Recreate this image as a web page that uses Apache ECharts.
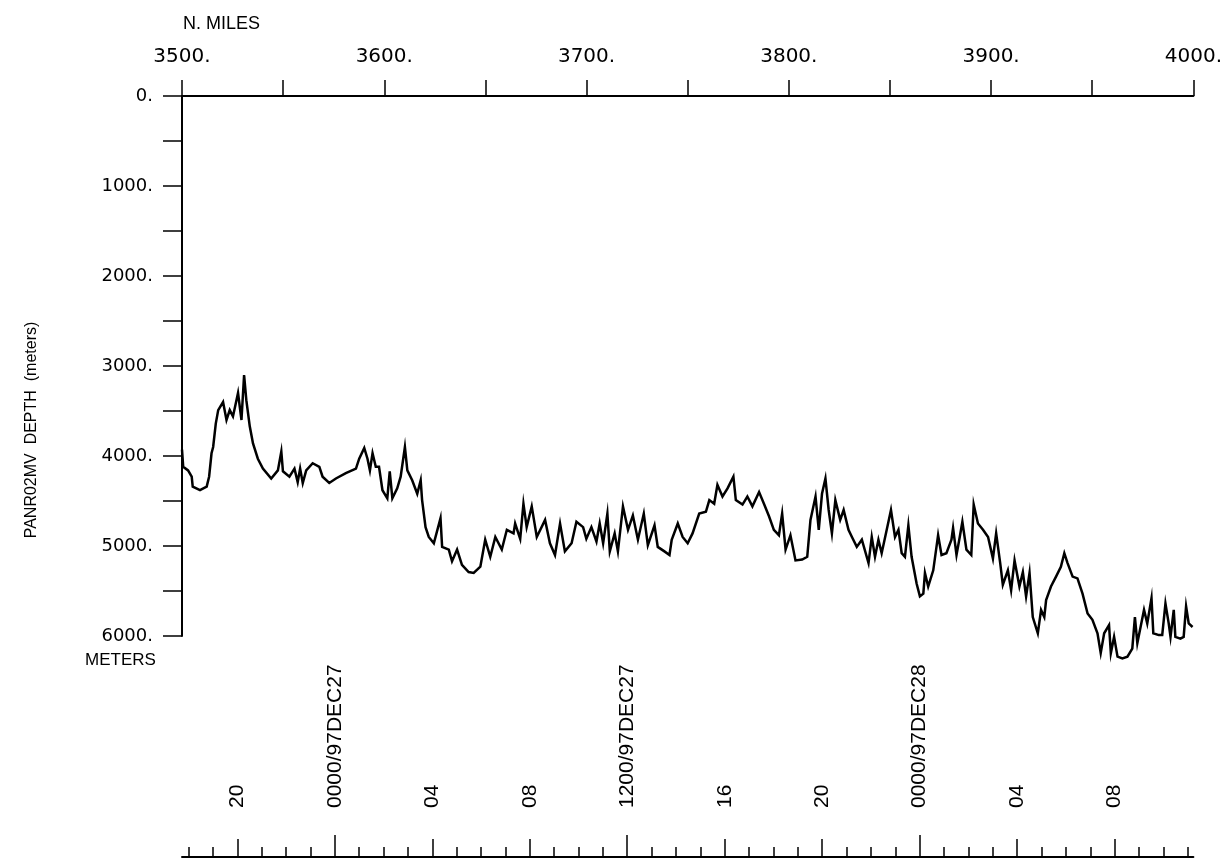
<!DOCTYPE html>
<html>
<head>
<meta charset="utf-8">
<script src="https://cdn.jsdelivr.net/npm/echarts@6/dist/echarts.min.js"></script>
<style>
html,body{margin:0;padding:0;background:#fff;}
#chart{width:1225px;height:859px;}
</style>
</head>
<body>
<div id="chart"></div>
<script>
// Distance along track (nautical miles)
const miles = [
3500.0,3500.6,3503.0,3504.8,3505.3,3508.9,3512.2,3513.4,3514.6,3515.4,
3516.7,3517.9,3520.3,3522.0,3523.6,3525.2,3527.7,3529.4,3530.7,3531.8,
3533.5,3535.1,3537.5,3540.0,3544.1,3547.4,3549.1,3549.9,3553.1,3555.6,
3557.2,3558.4,3559.7,3561.4,3564.6,3567.9,3569.5,3572.8,3576.1,3581.0,
3586.0,3587.6,3590.1,3591.7,3592.9,3594.2,3595.8,3597.4,3599.1,3601.5,
3602.7,3604.0,3606.4,3608.1,3610.2,3611.4,3613.8,3616.3,3618.0,3618.7,
3620.4,3622.0,3624.5,3627.8,3628.6,3631.9,3633.5,3636.0,3638.4,3641.7,
3644.2,3647.5,3649.9,3652.4,3654.9,3658.1,3660.6,3663.9,3664.7,3667.2,
3668.8,3670.4,3672.9,3675.4,3679.5,3681.9,3684.4,3686.9,3689.3,3692.6,
3695.0,3698.3,3699.9,3702.4,3704.9,3706.5,3708.2,3710.3,3711.5,3713.9,
3715.5,3718.0,3720.5,3722.9,3725.4,3728.3,3730.3,3733.6,3735.2,3738.5,
3741.0,3742.1,3745.1,3747.5,3750.0,3752.4,3755.7,3759.0,3760.7,3763.1,
3764.7,3767.2,3769.7,3772.6,3773.8,3777.1,3779.5,3782.0,3785.3,3787.7,
3790.2,3792.6,3795.1,3796.7,3798.4,3800.8,3803.3,3806.6,3809.1,3810.7,
3813.2,3814.8,3816.4,3818.1,3819.7,3821.3,3823.0,3825.4,3827.1,3829.5,
3831.2,3833.6,3836.1,3839.4,3841.0,3842.6,3844.3,3845.9,3848.4,3850.5,
3852.5,3854.2,3855.8,3857.4,3859.1,3860.7,3863.2,3864.8,3866.5,3867.3,
3868.9,3871.4,3873.8,3875.5,3877.9,3880.4,3881.2,3882.9,3884.5,3885.8,
3887.8,3890.2,3891.4,3893.5,3896.0,3898.5,3900.9,3902.5,3904.5,3905.8,
3908.3,3909.9,3911.6,3914.0,3915.7,3917.3,3919.0,3920.6,3923.1,3924.7,
3926.3,3927.2,3929.6,3932.1,3934.5,3936.2,3937.8,3940.3,3942.7,3945.2,
3947.7,3950.1,3952.6,3954.2,3955.9,3958.3,3959.2,3960.8,3962.5,3964.9,
3967.4,3969.8,3971.1,3972.3,3973.9,3975.6,3977.2,3979.3,3980.2,3982.9,
3984.6,3986.2,3987.8,3988.7,3990.3,3991.1,3993.6,3995.2,3996.4,3997.7,
3999.6
];
// Depth (meters)
const depth = [
3930,4120,4160,4230,4340,4380,4340,4230,3970,3900,
3640,3490,3400,3600,3490,3560,3300,3600,3100,3380,
3670,3860,4030,4140,4250,4160,3950,4170,4230,4140,
4290,4140,4300,4160,4080,4120,4230,4300,4250,4190,
4140,4030,3910,4030,4160,3970,4120,4120,4380,4470,
4170,4470,4360,4230,3900,4160,4270,4420,4270,4490,
4790,4900,4970,4690,5010,5040,5170,5040,5210,5290,
5300,5230,4930,5120,4900,5040,4820,4860,4750,4920,
4530,4790,4560,4900,4710,4970,5100,4750,5060,4970,
4730,4790,4920,4790,4950,4750,4970,4640,5060,4860,
5060,4560,4820,4660,4930,4640,4990,4770,5010,5060,
5100,4930,4750,4900,4970,4860,4640,4620,4490,4530,
4320,4450,4360,4230,4490,4540,4450,4560,4400,4530,
4670,4820,4880,4640,5040,4880,5160,5150,5120,4710,
4450,4820,4420,4250,4600,4860,4490,4710,4600,4820,
4900,5010,4930,5190,4900,5120,4930,5080,4820,4600,
4900,4820,5080,5120,4770,5120,5420,5560,5530,5300,
5450,5270,4880,5100,5080,4930,4800,5100,4900,4730,
5040,5100,4540,4750,4820,4900,5140,4860,5190,5430,
5270,5490,5160,5450,5290,5560,5300,5790,5970,5710,
5790,5600,5450,5340,5230,5080,5190,5340,5360,5530,
5750,5820,5970,6190,5970,5880,6190,6010,6230,6250,
6230,6140,5790,6080,5900,5710,5860,5580,5970,5990,
5990,5640,5860,6010,5710,6010,6030,6010,5670,5860,
5900
];
// Time axis (hours relative to 0000 97DEC27)
const timeMin = -6.27;
const timeMax = 35.23;
const hourTicks = [];
for (let h = -6; h <= 35; h++) hourTicks.push(h);
const fourHourTicks = [-4,0,4,8,12,16,20,24,28,32];
const dayTicks = [0,12,24];
const timeLabels = {
  '-4':'20','0':'0000/97DEC27','4':'04','8':'08','12':'1200/97DEC27',
  '16':'16','20':'20','24':'0000/97DEC28','28':'04','32':'08'
};
const mileTicks = [3500,3600,3700,3800,3900,4000];
const depthTicks = [0,1000,2000,3000,4000,5000,6000];

const seriesData = miles.map((m, i) => [m, depth[i]]);

const chart = echarts.init(document.getElementById('chart'), null, {renderer:'canvas'});
const blk = '#000';
const numFont = 'DejaVu Sans';
const txtFont = 'Liberation Sans';

chart.setOption({
  backgroundColor:'#fff',
  animation:false,
  title:[
    {text:'N. MILES', left:178, top:10, textStyle:{fontFamily:txtFont,fontSize:18,fontWeight:'normal',color:blk}},
    {text:'METERS', left:80, top:647, textStyle:{fontFamily:txtFont,fontSize:17,fontWeight:'normal',color:blk}}
  ],
  graphic:[
    {type:'text', x:32, y:430, rotation:Math.PI/2,
     style:{text:'PANR02MV  DEPTH  (meters)', fontFamily:txtFont, fontSize:16, fill:blk, align:'center', verticalAlign:'middle'}}
  ],
  grid:{left:182, right:27, top:96, bottom:223, containLabel:false},
  xAxis:[
    {
      type:'value', position:'top', min:3500, max:4000, interval:50,
      axisLine:{show:true, lineStyle:{color:blk, width:2}},
      axisTick:{show:true, length:16, lineStyle:{color:blk, width:1.5}},
      axisLabel:{
        show:true, margin:29, color:blk, fontFamily:numFont, fontSize:20,
        customValues: mileTicks,
        formatter: v => v + '.'
      },
      splitLine:{show:false}
    },
    {
      type:'value', position:'bottom', offset:221, min:timeMin, max:timeMax,
      axisLine:{show:true, onZero:false, lineStyle:{color:blk, width:2}},
      axisTick:{show:true, inside:true, length:10, customValues:hourTicks, lineStyle:{color:blk, width:1.5}},
      axisLabel:{show:false},
      splitLine:{show:false}
    },
    {
      type:'value', position:'bottom', offset:221, min:timeMin, max:timeMax,
      axisLine:{show:false, onZero:false},
      axisTick:{show:true, inside:true, length:18, customValues:fourHourTicks, lineStyle:{color:blk, width:1.5}},
      axisLabel:{
        show:true, inside:true, rotate:90, margin:49, color:blk,
        fontFamily:txtFont, fontSize:21,
        customValues: fourHourTicks,
        formatter: v => timeLabels[String(Math.round(v))] || ''
      },
      splitLine:{show:false}
    },
    {
      type:'value', position:'bottom', offset:221, min:timeMin, max:timeMax,
      axisLine:{show:false, onZero:false},
      axisTick:{show:true, inside:true, length:22, customValues:dayTicks, lineStyle:{color:blk, width:1.5}},
      axisLabel:{show:false},
      splitLine:{show:false}
    }
  ],
  yAxis:{
    type:'value', inverse:true, min:0, max:6000, interval:500,
    axisLine:{show:true, onZero:false, lineStyle:{color:blk, width:2}},
    axisTick:{show:true, length:19, lineStyle:{color:blk, width:1.5}},
    axisLabel:{
      show:true, margin:29, color:blk, fontFamily:numFont, fontSize:18,
      customValues: depthTicks,
      formatter: v => v + '.'
    },
    splitLine:{show:false}
  },
  series:[{
    type:'line', xAxisIndex:0, yAxisIndex:0, data:seriesData,
    showSymbol:false, symbol:'none', smooth:false, clip:false,
    lineStyle:{color:blk, width:2.5, join:'miter'}
  }]
});
</script>
</body>
</html>
